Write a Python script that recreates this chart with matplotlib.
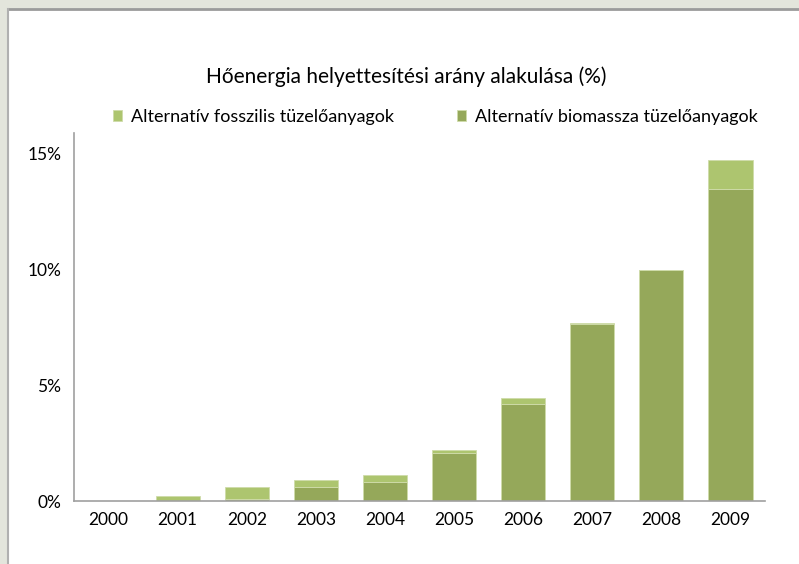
import matplotlib.pyplot as plt
from matplotlib.patches import Rectangle
from matplotlib.lines import Line2D
import numpy as np

years = ['2000', '2001', '2002', '2003', '2004', '2005', '2006', '2007', '2008', '2009']
biomassza = [0, 0, 0.09, 0.59, 0.81, 2.06, 4.21, 7.66, 9.97, 13.46]
fosszilis = [0, 0.22, 0.50, 0.32, 0.32, 0.15, 0.24, 0.02, 0.02, 1.26]

c_fossil = '#adc56f'
c_bio = '#95a85a'
fontname = 'Lato'

fig = plt.figure(figsize=(7.99, 5.64), dpi=100)
fig.patch.set_facecolor('#e3e5dc')

# white panel with grey top/left border
W, H = 799, 564
fig.patches.append(Rectangle((9 / W, 0), 1, 1 - 9 / H, transform=fig.transFigure,
                             facecolor='white', edgecolor='none', zorder=-10))
fig.lines.append(Line2D([8 / W, 1], [1 - 9 / H, 1 - 9 / H], transform=fig.transFigure,
                        color='#9b9b9b', linewidth=2, zorder=-5))
fig.lines.append(Line2D([8 / W, 8 / W], [0, 1 - 9 / H], transform=fig.transFigure,
                        color='#b0b0b0', linewidth=1.5, zorder=-5))

ax = fig.add_axes([74 / W, 63 / H, (765 - 74) / W, (501 - 133) / H])
x = np.arange(len(years))
ax.bar(x, biomassza, width=0.64, color=c_bio, edgecolor='#cfdcaa', linewidth=0.6,
       label='Alternatív biomassza tüzelőanyagok', zorder=2)
ax.bar(x, fosszilis, width=0.64, bottom=biomassza, color=c_fossil, edgecolor='#cfdcaa',
       linewidth=0.6, label='Alternatív fosszilis tüzelőanyagok', zorder=2)

ax.set_xlim(-0.5, len(years) - 0.5)
ax.set_ylim(0, 15.9)
ax.set_yticks([0, 5, 10, 15])
ax.set_yticklabels(['0%', '5%', '10%', '15%'], fontname=fontname, fontsize=12.5)
ax.set_xticks(x)
ax.set_xticklabels(years, fontname=fontname, fontsize=12.5)
ax.tick_params(length=0, pad=9)
ax.tick_params(axis='x', pad=8)
for s in ['top', 'right']:
    ax.spines[s].set_visible(False)
for s in ['left', 'bottom']:
    ax.spines[s].set_color('#a0a0a0')
    ax.spines[s].set_linewidth(1.2)
ax.set_facecolor('none')

fig.text(0.508, 1 - 77 / H, 'Hőenergia helyettesítési arány alakulása (%)', ha='center',
         va='center', fontname=fontname, fontsize=15)

h, l = ax.get_legend_handles_labels()
leg = fig.legend(h[::-1], l[::-1], loc='center', bbox_to_anchor=(0.545, 1 - 117 / H), ncol=2,
                 frameon=False, prop={'family': fontname, 'size': 13},
                 handlelength=0.5, handleheight=0.5, handletextpad=0.5, columnspacing=3.5)

fig.savefig('out.png', dpi=100, facecolor=fig.get_facecolor())
